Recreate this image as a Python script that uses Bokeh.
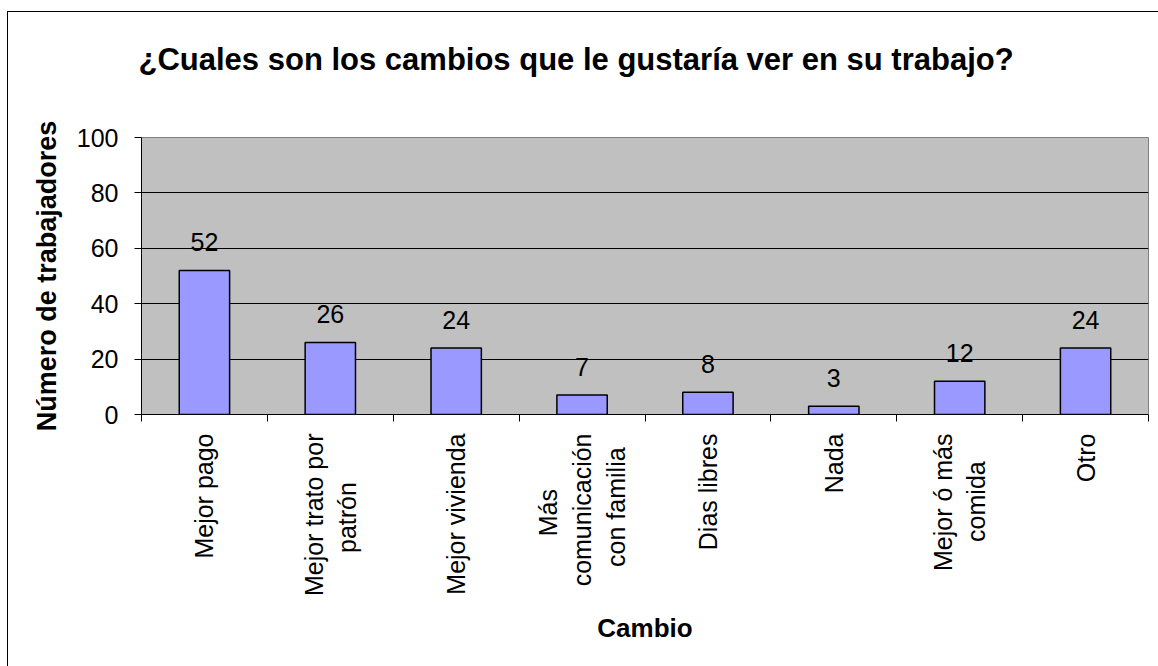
from math import pi
from bokeh.plotting import figure
from bokeh.layouts import column
from bokeh.models import Range1d, FixedTicker, Title
from bokeh.embed import file_html
from bokeh.resources import INLINE
from bokeh.core.properties import value

# ---- data ----
NB = "\u00a0"
categories = ["Mejor pago", "Mejor trato por\npatrón" + NB * 7, "Mejor vivienda",
              "Más" + NB * 8 + "\ncomunicación\ncon familia" + NB * 2, "Dias libres", "Nada",
              "Mejor ó más\ncomida" + NB * 4, "Otro"]
counts = [52, 26, 24, 7, 8, 3, 12, 24]
y_ticks = [0, 20, 40, 60, 80, 100]
title_text = "¿Cuales son los cambios que le gustaría ver en su trabajo?"
y_label = "Número de trabajadores"
x_label = "Cambio"

FONT = "Liberation Sans"
n = len(categories)
centers = [i + 0.5 for i in range(n)]
boundaries = list(range(n + 1))

p = figure(width=1150, height=688, output_backend="svg", toolbar_location=None,
           x_range=Range1d(0, n), y_range=Range1d(0, 100),
           min_border_left=133, min_border_right=10, min_border_top=100,
           min_border_bottom=252, title=None)
p.styles = {"margin-top": "-34px"}
p.background_fill_color = "#C0C0C0"
p.border_fill_color = "white"
p.border_fill_alpha = 0
p.outline_line_color = "#808080"

xa = p.below[0]
ya = p.left[0]

# title
t = Title(text=title_text, align="left", offset=-3, standoff=122,
          text_font=FONT, text_font_size="31px", text_font_style="bold",
          text_color="black")
p.add_layout(t, "above")

# bars
p.vbar(x=centers, top=counts, width=0.4, fill_color="#9999FF",
       line_color="black", line_width=1.5)
p.text(x=centers, y=counts, text=[str(c) for c in counts],
       text_align="center", text_baseline="alphabetic", y_offset=-28,
       text_font=value(FONT), text_font_size="25px", text_color="black")

# grid
p.xgrid.visible = False
p.ygrid.ticker = FixedTicker(ticks=y_ticks)
p.ygrid.grid_line_color = "black"
p.ygrid.grid_line_width = 1

# y axis
ya.ticker = FixedTicker(ticks=y_ticks)
ya.major_tick_out = 7
ya.major_tick_in = 0
ya.minor_tick_line_color = None
ya.axis_line_color = "black"
ya.major_label_standoff = 16
ya.major_label_text_font = FONT
ya.major_label_text_font_size = "25px"
ya.major_label_text_color = "black"
ya.axis_label = y_label
ya.axis_label_text_font = FONT
ya.axis_label_text_font_size = "27px"
ya.axis_label_text_font_style = "bold"
ya.axis_label_text_color = "black"
ya.axis_label_standoff = 12

# x axis: labels at category centers, ticks (minor) at boundaries
xa.ticker = FixedTicker(ticks=centers, minor_ticks=boundaries)
xa.major_label_overrides = {c: lab for c, lab in zip(centers, categories)}
xa.major_tick_line_color = None
xa.major_tick_out = 0
xa.major_tick_in = 0
xa.minor_tick_line_color = "black"
xa.minor_tick_out = 7
xa.minor_tick_in = 0
xa.axis_line_color = "black"
xa.major_label_orientation = pi / 2
xa.major_label_standoff = 12
xa.major_label_text_font = FONT
xa.major_label_text_font_size = "25px"
xa.major_label_text_color = "black"
xa.axis_label = x_label
xa.axis_label_text_font = FONT
xa.axis_label_text_font_size = "26px"
xa.axis_label_text_font_style = "bold"
xa.axis_label_text_color = "black"
xa.axis_label_standoff = 14

layout = column(p, styles={"border-left": "1px solid black",
                           "border-top": "1px solid black",
                           "margin-left": "7px", "margin-top": "11px"})

open("out.html", "w").write(file_html(layout, INLINE))
